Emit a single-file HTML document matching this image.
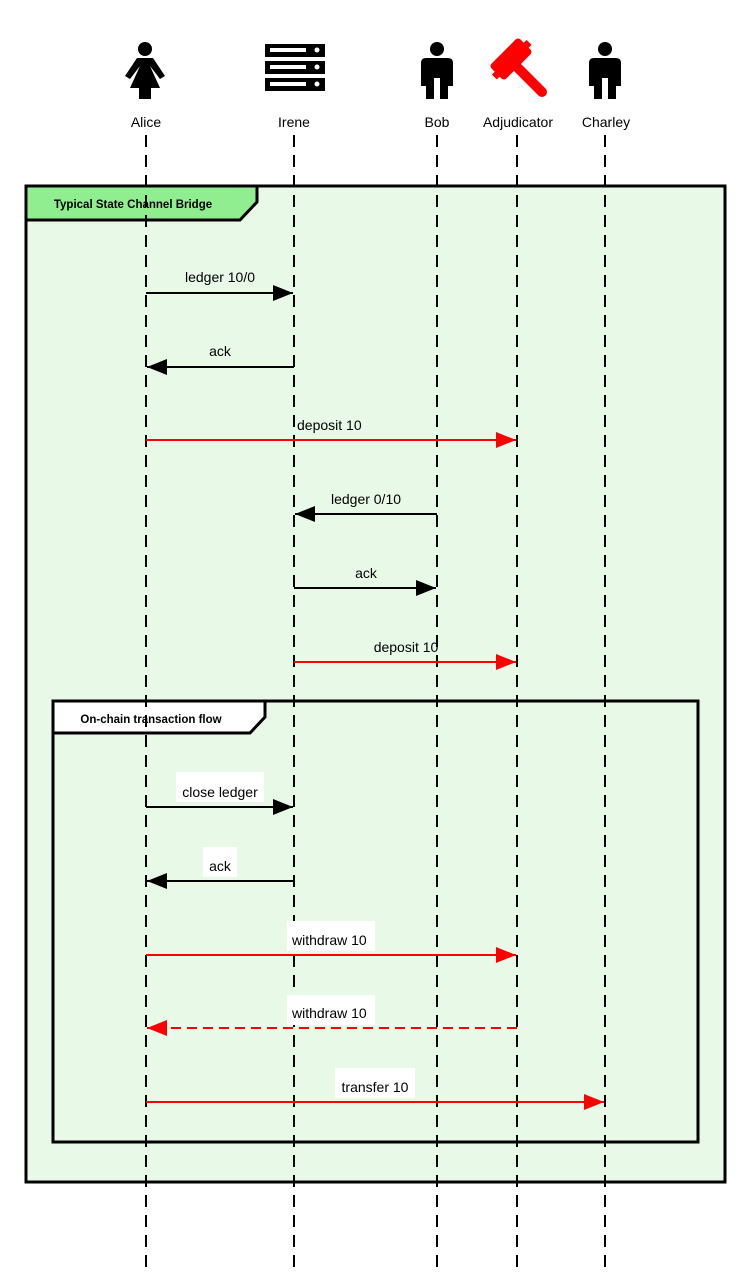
<!DOCTYPE html>
<html><head><meta charset="utf-8"><style>
body{margin:0;background:#fff}
svg text{font-family:"Liberation Sans",Arial,sans-serif}
</style></head><body>
<svg width="751" height="1274" viewBox="0 0 751 1274" xmlns="http://www.w3.org/2000/svg">
<rect x="26" y="186" width="699" height="996" fill="#e8f9e8" stroke="#000" stroke-width="3"/>
<path d="M26 186 H257 V202 L240 220 H26 Z" fill="#90ee90" stroke="#000" stroke-width="3"/>
<text x="133" y="208" font-size="11.5" font-weight="bold" text-anchor="middle">Typical State Channel Bridge</text>
<rect x="53" y="701" width="645" height="441" fill="none" stroke="#000" stroke-width="3"/>
<path d="M53 701 H265 V717 L250 733 H53 Z" fill="#fff" stroke="#000" stroke-width="3"/>
<text x="151" y="723" font-size="11.5" font-weight="bold" text-anchor="middle">On-chain transaction flow</text>
<g stroke="#000" stroke-width="2" stroke-dasharray="12,8">
<line x1="146" y1="135" x2="146" y2="1274"/>
<line x1="294" y1="135" x2="294" y2="1274"/>
<line x1="437" y1="135" x2="437" y2="1274"/>
<line x1="517" y1="135" x2="517" y2="1274"/>
<line x1="605" y1="135" x2="605" y2="1274"/>
</g>
<g font-size="14" text-anchor="middle">
<text x="146" y="127">Alice</text>
<text x="294" y="127">Irene</text>
<text x="437" y="127">Bob</text>
<text x="518" y="127">Adjudicator</text>
<text x="606" y="127">Charley</text>
</g>
<g fill="#000">
<circle cx="145" cy="49" r="7"/>
<path d="M137 58 H153 L165 76 L160 79 L150 66 L160 88 H151 V99 H139 V88 H130 L140 66 L130 79 L125 76 Z"/>
<rect x="265" y="44" width="60" height="13"/><rect x="265" y="61" width="60" height="13"/><rect x="265" y="78" width="60" height="13"/>
<circle cx="437" cy="49" r="7"/>
<path d="M426 58 H448 Q453 58 453 63 V86 H448 V99 H440 V78 H434 V99 H426 V86 H421 V63 Q421 58 426 58 Z"/>
<circle cx="605" cy="49" r="7"/>
<path d="M594 58 H616 Q621 58 621 63 V86 H616 V99 H608 V78 H602 V99 H594 V86 H589 V63 Q589 58 594 58 Z"/>
</g>
<g fill="#fff">
<rect x="270" y="48" width="36" height="4"/><rect x="270" y="65" width="36" height="4"/><rect x="270" y="82" width="36" height="4"/>
<circle cx="317" cy="50" r="2.5"/><circle cx="317" cy="67" r="2.5"/><circle cx="317" cy="84" r="2.5"/>
</g>
<g fill="#f00" stroke="#f00" stroke-linecap="round" stroke-linejoin="round">
<rect x="-20" y="-10" width="40" height="20" rx="3" transform="translate(511,59) rotate(-45)"/>
<rect x="-24" y="-2" width="48" height="6" transform="translate(511,59) rotate(-45)"/>
<line x1="518" y1="68" x2="542" y2="92" stroke-width="10"/>
</g>
<g fill="#fff">
<rect x="176" y="772" width="88" height="30"/>
<rect x="203" y="847" width="34" height="30"/>
<rect x="287" y="921" width="88" height="30"/>
<rect x="287" y="995" width="88" height="30"/>
<rect x="335" y="1068" width="80" height="30"/>
</g>
<defs>
<marker id="ab" markerWidth="20" markerHeight="16" refX="20" refY="8" orient="auto" markerUnits="userSpaceOnUse"><path d="M0 0 L20 8 L0 16 Z" fill="#000"/></marker>
<marker id="ar" markerWidth="20" markerHeight="16" refX="20" refY="8" orient="auto" markerUnits="userSpaceOnUse"><path d="M0 0 L20 8 L0 16 Z" fill="#f00"/></marker>
</defs>
<g stroke-width="2" fill="none">
<line x1="146" y1="293" x2="293" y2="293" stroke="#000" marker-end="url(#ab)"/>
<line x1="294" y1="367" x2="147" y2="367" stroke="#000" marker-end="url(#ab)"/>
<line x1="146" y1="440" x2="516" y2="440" stroke="#f00" marker-end="url(#ar)"/>
<line x1="437" y1="514" x2="295" y2="514" stroke="#000" marker-end="url(#ab)"/>
<line x1="294" y1="588" x2="436" y2="588" stroke="#000" marker-end="url(#ab)"/>
<line x1="294" y1="662" x2="516" y2="662" stroke="#f00" marker-end="url(#ar)"/>
<line x1="146" y1="807" x2="293" y2="807" stroke="#000" marker-end="url(#ab)"/>
<line x1="294" y1="881" x2="147" y2="881" stroke="#000" marker-end="url(#ab)"/>
<line x1="146" y1="955" x2="516" y2="955" stroke="#f00" marker-end="url(#ar)"/>
<line x1="517" y1="1028" x2="147" y2="1028" stroke="#f00" stroke-dasharray="10,6" marker-end="url(#ar)"/>
<line x1="146" y1="1102" x2="604" y2="1102" stroke="#f00" marker-end="url(#ar)"/>
</g>
<g font-size="14">
<text x="220" y="282" text-anchor="middle">ledger 10/0</text>
<text x="220" y="356" text-anchor="middle">ack</text>
<text x="297" y="430">deposit 10</text>
<text x="366" y="504" text-anchor="middle">ledger 0/10</text>
<text x="366" y="578" text-anchor="middle">ack</text>
<text x="406" y="652" text-anchor="middle">deposit 10</text>
<text x="220" y="797" text-anchor="middle">close ledger</text>
<text x="220" y="871" text-anchor="middle">ack</text>
<text x="292" y="945">withdraw 10</text>
<text x="292" y="1018">withdraw 10</text>
<text x="375" y="1092" text-anchor="middle">transfer 10</text>
</g>
</svg>
</body></html>
